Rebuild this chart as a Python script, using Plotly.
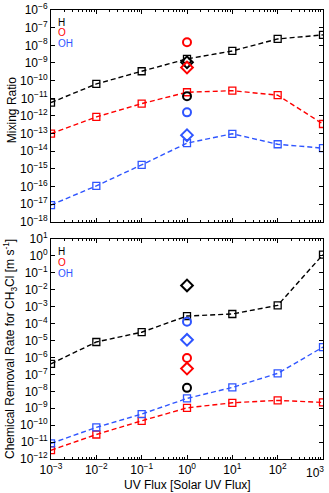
import plotly.graph_objects as go

# UV flux in units of solar UV flux
uv_flux = [1e-3, 1e-2, 1e-1, 1, 10, 100, 1000]

# mixing ratios (top panel)
mix_h = [5.7e-12, 6.5e-11, 3.4e-10, 1.7e-9, 4.8e-9, 2.3e-8, 3.9e-8]
mix_o = [1.0e-13, 8.8e-13, 5.0e-12, 2.2e-11, 2.7e-11, 1.5e-11, 3.5e-13]
mix_oh = [9e-18, 1.1e-16, 1.7e-15, 2.9e-14, 9.8e-14, 2.5e-14, 1.5e-14]

# single points at solar UV flux (circles, diamonds)
mix_circ = {"H": 1.3e-11, "O": 1.5e-8, "OH": 1.6e-12}
mix_diam = {"H": 1.1e-9, "O": 5.5e-10, "OH": 8.2e-14}

# removal rates for CH3Cl (bottom panel)
rate_h = [4.2e-7, 8.2e-6, 3.1e-5, 2.8e-4, 3.7e-4, 1.2e-3, 1.2]
rate_o = [3.3e-12, 2.8e-11, 1.8e-10, 1.05e-9, 2.1e-9, 2.9e-9, 2.2e-9]
rate_oh = [8.3e-12, 7.4e-11, 4.5e-10, 3.8e-9, 1.7e-8, 1.15e-7, 4.1e-6]

rate_circ = {"H": 1.6e-8, "O": 9.3e-7, "OH": 1.3e-4}
rate_diam = {"H": 1.8e-2, "O": 2.2e-7, "OH": 1.1e-5}

# tick exponents (labels are 10^n)
x_exps = [-3, -2, -1, 0, 1, 2, 3]
mix_exps = list(range(-18, -5))
rate_exps = list(range(-12, 2))

species = ["H", "O", "OH"]
colors = {"H": "black", "O": "#ff0000", "OH": "#2f55ff"}


def pow_label(n):
    return "10<sup>%s</sup>" % str(n).replace("-", "\u2212")


fig = go.Figure()


def add_panel(series, circ, diam, xa, ya):
    for sp, vals in zip(species, series):
        fig.add_trace(go.Scatter(x=uv_flux, y=vals, mode="lines+markers",
                                 line=dict(color=colors[sp], dash="5px,3px", width=1.4),
                                 marker=dict(symbol="square-open", size=7, color=colors[sp],
                                             line=dict(width=1.3)),
                                 xaxis=xa, yaxis=ya, showlegend=False))
    for sp in species:
        fig.add_trace(go.Scatter(x=[1], y=[circ[sp]], mode="markers",
                                 marker=dict(symbol="circle-open", size=8, color=colors[sp],
                                             line=dict(width=2)),
                                 xaxis=xa, yaxis=ya, showlegend=False))
        fig.add_trace(go.Scatter(x=[1], y=[diam[sp]], mode="markers",
                                 marker=dict(symbol="diamond-open", size=9, color=colors[sp],
                                             line=dict(width=2)),
                                 xaxis=xa, yaxis=ya, showlegend=False))


add_panel([mix_h, mix_o, mix_oh], mix_circ, mix_diam, "x", "y")
add_panel([rate_h, rate_o, rate_oh], rate_circ, rate_diam, "x2", "y2")

font = dict(family="Liberation Sans, Arial, sans-serif", size=12, color="black")
axis_common = dict(type="log", showgrid=False, zeroline=False, showline=True, mirror="ticks",
                   linecolor="black", linewidth=1, ticks="inside", ticklen=4,
                   tickcolor="black", tickfont=font, tickmode="array",
                   automargin=False, ticklabeloverflow="allow")
x_minor = dict(ticks="inside", ticklen=2, dtick="D1", tickcolor="black")


def ticks(exps):
    return dict(tickvals=[10.0 ** n for n in exps], ticktext=[pow_label(n) for n in exps])


fig.update_layout(
    width=329, height=493,
    margin=dict(l=51, r=6, t=10, b=34),
    plot_bgcolor="white", paper_bgcolor="white",
    font=font,
    xaxis=dict(axis_common, **ticks(x_exps), range=[-3, 3], domain=[0, 1], anchor="y",
               showticklabels=False, minor=x_minor),
    yaxis=dict(axis_common, **ticks(mix_exps), range=[-18, -6], domain=[0.528, 1], anchor="x"),
    # last decade label is drawn separately so it stays inside the page
    xaxis2=dict(axis_common, **ticks(x_exps[:-1]), range=[-3, 3], domain=[0, 1],
                anchor="y2", minor=x_minor),
    yaxis2=dict(axis_common, **ticks(rate_exps), range=[-12, 1], domain=[0, 0.49], anchor="x2"),
)

fig.add_annotation(text=pow_label(x_exps[-1]), x=x_exps[-1], xref="x2", xanchor="right",
                   xshift=3, y=0, yref="y2 domain", yanchor="top", yshift=-3,
                   showarrow=False, font=font)

# axis titles
fig.add_annotation(text="Mixing Ratio", x=0, xshift=-39, xref="paper", xanchor="center",
                   y=0.777, yref="paper", yanchor="middle", showarrow=False,
                   textangle=-90, font=font)
fig.add_annotation(text="Chemical Removal Rate for CH<sub>3</sub>Cl [m s<sup>-1</sup>]",
                   x=0, xshift=-41, xref="paper", xanchor="center",
                   y=0.245, yref="paper", yanchor="middle", showarrow=False,
                   textangle=-90, font=font)
fig.add_annotation(text="UV Flux [Solar UV Flux]", x=0.5, xref="paper", y=0, yref="paper",
                   yshift=-26, yanchor="middle", showarrow=False, font=font)

# legend text in each panel
for xd, yd, tops in [("x domain", "y domain", [0.943, 0.893, 0.843]),
                     ("x2 domain", "y2 domain", [0.945, 0.895, 0.845])]:
    for sp, yy in zip(species, tops):
        fig.add_annotation(text=sp, x=0.02, y=yy, xref=xd, yref=yd, showarrow=False,
                           xanchor="left", yanchor="middle",
                           font=dict(family=font["family"], size=10, color=colors[sp]))

fig.write_html("out.html", config={"displayModeBar": False},
               post_script="document.body.style.margin='0';")
